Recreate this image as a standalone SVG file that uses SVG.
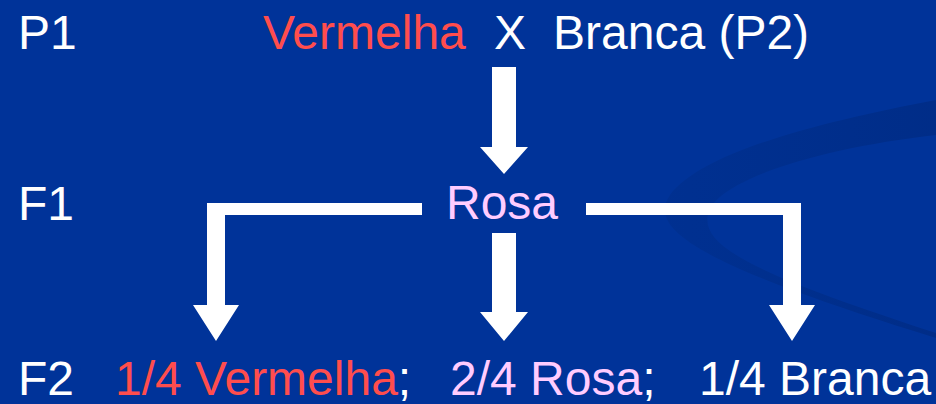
<svg xmlns="http://www.w3.org/2000/svg" width="936" height="404" viewBox="0 0 936 404">
  <style>
    text { font-family: "Liberation Sans", Arial, Helvetica, sans-serif; font-size: 48px; }
    .w { fill: #ffffff; }
    .r { fill: #ff4d4d; }
    .p { fill: #ffccff; }
    .arrow { fill: #ffffff; }
  </style>
  <defs>
    <linearGradient id="swoosh" x1="0" y1="0" x2="1" y2="0">
      <stop offset="0" stop-color="#002e8a" stop-opacity="0.55"/>
      <stop offset="1" stop-color="#002c86" stop-opacity="0.9"/>
    </linearGradient>
  </defs>

  <!-- background -->
  <rect x="0" y="0" width="936" height="404" fill="#003399"/>
  <path d="M936,100 C820,122 702,152 670,195 C648,228 690,262 936,338 L936,333 C762,276 700,248 708,214 C716,180 820,148 936,135 Z" fill="url(#swoosh)"/>

  <!-- generation labels -->
  <g id="label-p1"><text x="18" y="49" class="w">P1</text></g>
  <g id="label-f1"><text x="18" y="220" class="w">F1</text></g>
  <g id="label-f2"><text x="18" y="395" class="w">F2</text></g>

  <!-- parents -->
  <g id="node-parents">
    <text x="263" y="49" class="r">Vermelha</text>
    <text x="494" y="49" class="w">X</text>
    <text x="553" y="49" class="w">Branca (P2)</text>
  </g>

  <!-- F1 -->
  <g id="node-f1"><text x="446" y="219" class="p">Rosa</text></g>

  <!-- F2 -->
  <g id="node-f2-red"><text x="115" y="395"><tspan class="r">1/4 Vermelha</tspan><tspan class="w">;</tspan></text></g>
  <g id="node-f2-pink"><text x="450" y="395"><tspan class="p">2/4 Rosa</tspan><tspan class="w">;</tspan></text></g>
  <g id="node-f2-white"><text x="699" y="395" class="w">1/4 Branca</text></g>

  <!-- block arrows -->
  <g id="connectors" class="arrow">
    <path d="M492,67 H516 V147 H528 L504,174 L480,147 H492 Z"/>
    <path d="M422,203 V215 H225 V305 H239 L216,341 L193,305 H207 V203 Z"/>
    <path d="M492,233 H516 V312 H528 L504,341 L480,312 H492 Z"/>
    <path d="M586,203 H801 V305 H815 L792,341 L769,305 H783 V215 H586 Z"/>
  </g>
</svg>
